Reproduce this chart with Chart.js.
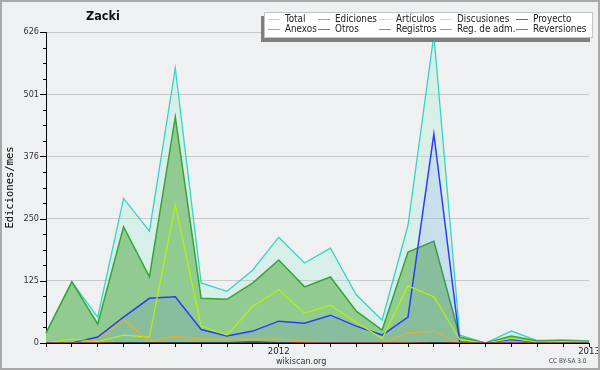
<!DOCTYPE html>
<html><head><meta charset="utf-8">
<script src="https://cdn.jsdelivr.net/npm/chart.js@4/dist/chart.umd.min.js"></script>
<style>
html,body{margin:0;padding:0;background:#eff0f1;}
#wrap{position:relative;width:600px;height:370px;overflow:hidden;background:#eff0f1;}
#frame{position:absolute;left:0;top:0;width:600px;height:370px;box-sizing:border-box;border:2px solid #a9a9a9;pointer-events:none;}
canvas{position:absolute;left:0;top:0;}
.t{position:absolute;white-space:nowrap;font-family:"DejaVu Sans Condensed","DejaVu Sans",sans-serif;}
#title{left:86px;top:10px;font-size:12.5px;line-height:12px;font-weight:bold;color:#111;}
#site{left:276px;top:357px;font-size:9px;line-height:9px;color:#333;}
#lic{left:549px;top:358px;font-size:6.5px;line-height:7px;color:#444;}
#legend{position:absolute;left:264px;top:12px;width:327px;height:24px;background:#fff;border:1px solid #c4c4c4;box-shadow:-3px 4px 0 #7f7f7f;}
.li{position:absolute;font-size:9.8px;line-height:10px;color:#222;white-space:nowrap;font-family:"DejaVu Sans Condensed","DejaVu Sans",sans-serif;}
.sw{position:absolute;width:12px;height:1px;}
</style></head>
<body>
<div id="wrap">
<canvas id="c" width="600" height="370"></canvas>
<div id="legend"></div>
<div class="t" id="title">Zacki</div>
<div class="t" id="site">wikiscan.org</div>
<div class="t" id="lic">CC BY-SA 3.0</div>
<div id="frame"></div>
</div>
<script>
// ---- data (monthly, Apr 2011 .. Jan 2013) ----
const months = ['2011-04','2011-05','2011-06','2011-07','2011-08','2011-09','2011-10','2011-11','2011-12',
  '2012-01','2012-02','2012-03','2012-04','2012-05','2012-06','2012-07','2012-08','2012-09','2012-10','2012-11','2012-12','2013-01'];
const xTickLabels = ['','','','','','','','','','2012','','','','','','','','','','','','2013'];
const yTickLabels = ['0','125','250','376','501','626'];

const total       = [20,123,52,291,225,553,121,104,147,213,161,191,97,46,237,620,16,0,24,5,6,4];
const ediciones   = [20,123,38,234,133,455,90,88,121,167,113,133,64,26,183,205,12,0,14,4,5,3];
const articulos   = [0,8,3,16,12,278,34,16,74,107,60,76,42,9,115,93,7,0,9,2,3,2];
const discusiones = [0,0,6,48,3,14,8,8,8,8,4,2,1,1,20,24,0,0,2,1,1,0];
const proyecto    = [0,0,0,1,1,1,1,1,1,1,0,0,0,0,0,1,0,0,0,0,0,0];
const anexos      = [0,0,0,0,0,0,0,0,0,0,0,0,0,0,1,0,0,0,0,0,0,0];
const otros       = [0,0,0,0,0,0,0,1,3,1,0,0,0,0,0,0,0,0,0,0,0,0];
const registros   = [0,0,12,52,90,93,27,14,24,44,40,56,34,16,52,421,2,0,7,1,1,1];
const regAdm      = [0,0,0,0,0,0,0,0,0,0,0,0,0,0,0,0,0,0,0,0,0,0];
const reversiones = [0,0,0,0,0,0,0,0,0,0,0,0,0,0,1,1,0,0,0,0,0,0];

const seriesLabels = ['Total','Ediciones','Artículos','Discusiones','Proyecto','Anexos','Otros','Registros','Reg. de adm.','Reversiones'];
const seriesData = [total,ediciones,articulos,discusiones,proyecto,anexos,otros,registros,regAdm,reversiones];
const lineColors = ['#36d4c4','#33a633','#b4f500','#e6b02e','#404040','#ff7030','#8a2be2','#2a3cff','#d040d0','#e02020'];
const legendColors = ['#a6e3df','#7cc67c','#d2ef7a','#ffd37a','#6a6a6a','#ff8a5a','#9a55dd','#7f86ff','#e070e0','#e85050'];
const fills = {0:'rgba(140,240,205,0.24)',1:'#92cb92',7:'rgba(60,80,255,0.10)'};
const orders = [100,90,50,40,30,30,30,80,30,30];
const widths = [1.3,1.5,1.2,1.2,1,1,1,1.5,1,1];

const datasets = seriesData.map((d,i)=>({
  label: seriesLabels[i], data: d, borderColor: lineColors[i], borderWidth: widths[i],
  backgroundColor: fills[i] || 'transparent', fill: fills[i] ? 'origin' : false,
  pointRadius: 0, tension: 0, order: orders[i]
}));

// legend
const lg = document.getElementById('legend');
const colText = [20,70,131,192,268];
seriesLabels.forEach((lab,i)=>{
  const r = Math.floor(i/5), c = i%5;
  const sw = document.createElement('div'); sw.className='sw';
  sw.style.left=(colText[c]-17)+'px'; sw.style.top=(r?16:6)+'px'; sw.style.background=legendColors[i];
  const tx = document.createElement('div'); tx.className='li'; tx.textContent=lab;
  tx.style.left=colText[c]+'px'; tx.style.top=(r?11:1)+'px';
  lg.appendChild(sw); lg.appendChild(tx);
});

const yTickMarks = {
  id:'yTickMarks',
  afterDraw(chart){
    const s = chart.scales.y, ctx = chart.ctx;
    ctx.save(); ctx.strokeStyle='#000'; ctx.lineWidth=1;
    s.ticks.forEach((t,i)=>{
      const y = Math.round(s.getPixelForTick(i))+0.5;
      const len = i%4===0 ? 6 : 3;
      ctx.beginPath(); ctx.moveTo(s.right-len, y); ctx.lineTo(s.right, y); ctx.stroke();
    });
    ctx.restore();
  }
};

new Chart(document.getElementById('c'), {
  type:'line',
  data:{ labels: months, datasets },
  options:{
    responsive:false, animation:false, devicePixelRatio:1,
    layout:{ padding:{ top:32, right:11, bottom:0, left:0 } },
    plugins:{ legend:{display:false}, tooltip:{enabled:false}, title:{display:false} },
    scales:{
      x:{
        type:'category', offset:false,
        afterFit(s){ s.height = 27; },
        border:{ display:true, color:'#000', width:1 },
        grid:{ drawOnChartArea:false, drawTicks:true, tickLength:4, tickColor:'#000' },
        ticks:{ autoSkip:false, maxRotation:0, minRotation:0, padding:-1, color:'#222',
          font:{ family:'"DejaVu Sans Condensed","DejaVu Sans",sans-serif', size:9.5 },
          callback:(v,i)=>xTickLabels[i] }
      },
      y:{
        min:0, max:626,
        afterFit(s){ s.width = 46; },
        border:{ display:true, color:'#000', width:1 },
        grid:{ drawTicks:false, color:(ctx)=> ctx.index%4===0 ? '#c9c9c9' : 'rgba(0,0,0,0)' },
        ticks:{ stepSize:31.3, padding:7, color:'#333',
          font:{ family:'"DejaVu Sans Condensed","DejaVu Sans",sans-serif', size:9 },
          callback:(v,i)=> i%4===0 ? yTickLabels[i/4] : '' },
        title:{ display:true, text:'Ediciones/mes', color:'#000', padding:{top:4,bottom:0},
          font:{ family:'"DejaVu Sans Mono",monospace', size:10.5 } }
      }
    }
  },
  plugins:[yTickMarks]
});
</script>
</body></html>
